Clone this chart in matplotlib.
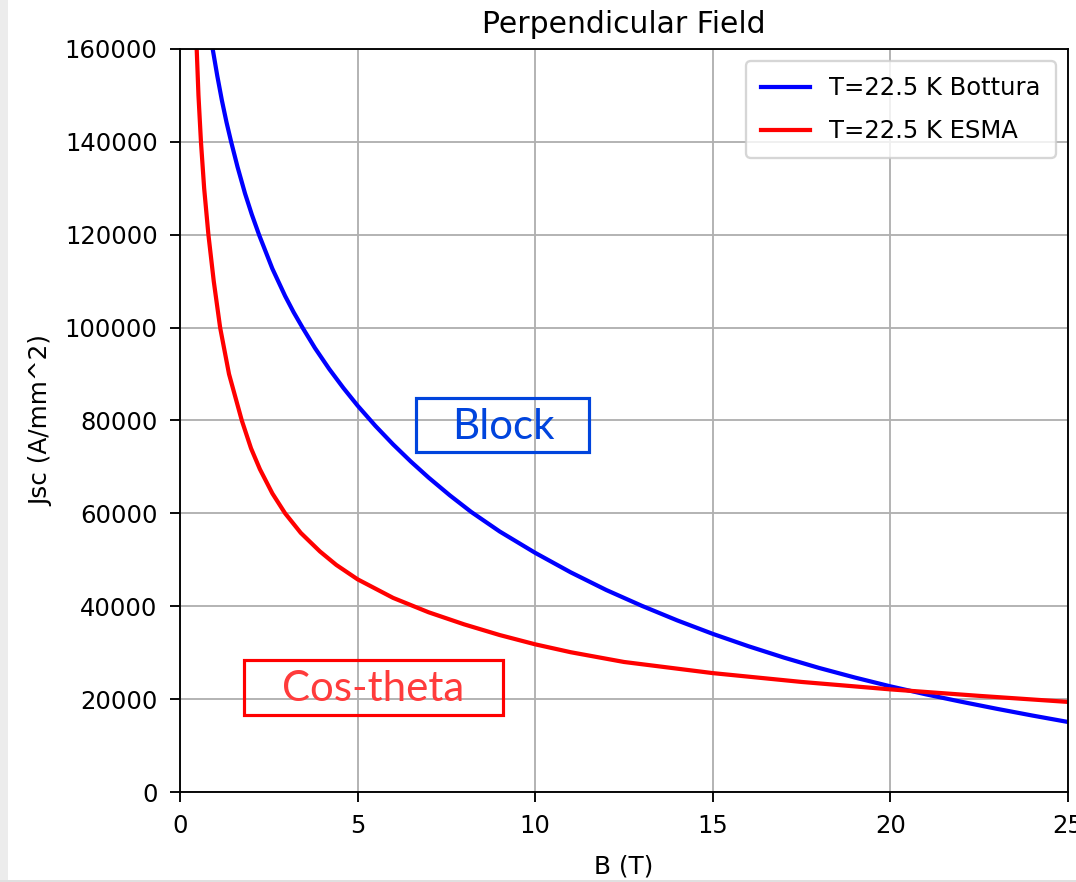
import matplotlib
matplotlib.use("Agg")
import matplotlib.pyplot as plt
from matplotlib.patches import Rectangle

# Data
b_bottura = [0.92, 1.05, 1.18, 1.31, 1.44, 1.62, 1.83, 2.02, 2.23, 2.6, 2.96, 3.2,
             3.45, 3.8, 4.2, 4.6, 5.0, 5.5, 6.0, 6.5, 7.0, 7.6, 8.2, 9.0, 10.0,
             11.0, 12.0, 13.0, 14.0, 15.0, 16.0, 17.0, 18.0, 19.0, 20.0,
             21.0, 22.0, 23.0, 24.0, 25.0]
j_bottura = [160000, 154200, 148900, 144200, 140000, 134600, 128900, 124400, 119900,
             112700, 106800, 103300, 100000, 95600, 91100, 87000, 83200, 78850, 74850,
             71150, 67700, 63860, 60300, 56100, 51500, 47300, 43500, 40100, 36950,
             34050, 31400, 28950, 26700, 24650, 22750, 21030, 19430, 17910, 16460,
             15080]

b_esma = [0.47, 0.52, 0.59, 0.68, 0.80, 0.95, 1.13, 1.38, 1.74, 2.0, 2.25, 2.6,
          2.96, 3.4, 3.94, 4.4, 5.0, 6.0, 7.0, 8.0, 9.0, 10.0, 11.0, 12.5, 15.0,
          17.5, 20.0, 22.5, 25.0]
j_esma = [160000, 150000, 140000, 130000, 120000, 110000, 100000, 90000, 80000,
          74000, 69500, 64300, 60000, 55800, 51800, 48900, 45800, 41800, 38700,
          36100, 33800, 31800, 30100, 28000, 25600, 23700, 22100, 20700, 19400]

labels = ["T=22.5 K Bottura", "T=22.5 K ESMA"]

# Set up figure (screenshot of a default matplotlib plot, scaled up)
plt.rcParams.update({
    "xtick.labelsize": 10.4, "ytick.labelsize": 10.4,
    "xtick.major.size": 4.3, "ytick.major.size": 4.3,
    "xtick.major.pad": 5.3, "ytick.major.pad": 5.3,
    "axes.labelsize": 10.6, "axes.titlesize": 12.8,
    "legend.fontsize": 10.4,
})
fig = plt.figure(figsize=(6.4, 882 / 168.125), dpi=168.125)
ax = fig.add_axes([180 / 1076, 1 - 792 / 882, 888 / 1076, 743 / 882])

ax.plot(b_bottura, j_bottura, color="blue", linewidth=1.8, label=labels[0])
ax.plot(b_esma, j_esma, color="red", linewidth=1.8, label=labels[1])

ax.set_xlim(0, 25)
ax.set_ylim(0, 160000)
ax.set_title("Perpendicular Field", pad=7)
ax.set_xlabel("B (T)", labelpad=7)
ax.set_ylabel("Jsc (A/mm^2)", labelpad=5)
ax.grid(True)
ax.legend(borderpad=0.62, labelspacing=0.78)

# Boxed annotations added on top of the plot
block_col = "#0044dd"
ax.add_patch(Rectangle((0.2658, 0.4576), 0.1948, 0.0727, transform=ax.transAxes,
                       fill=False, edgecolor=block_col, linewidth=1.35, zorder=5))
ax.text(0.3637, 0.4913, "Block", transform=ax.transAxes, ha="center", va="center",
        fontsize=18, family="Lato", color=block_col, zorder=5)

ax.add_patch(Rectangle((0.0721, 0.1036), 0.2916, 0.0741, transform=ax.transAxes,
                       fill=False, edgecolor="red", linewidth=1.35, zorder=5))
ax.text(0.2179, 0.1386, "Cos-theta", transform=ax.transAxes, ha="center", va="center",
        fontsize=18, family="Lato", color="#ff3b3b", zorder=5)

# Screenshot border (left strip and bottom line)
fig.patches.append(Rectangle((0, 0), 8 / 1076, 1, transform=fig.transFigure,
                             facecolor="#ececec", edgecolor="none"))
fig.patches.append(Rectangle((0, 0), 1, 2 / 882, transform=fig.transFigure,
                             facecolor="#e0e0e0", edgecolor="none"))

fig.savefig("out.png", dpi=168.125)
